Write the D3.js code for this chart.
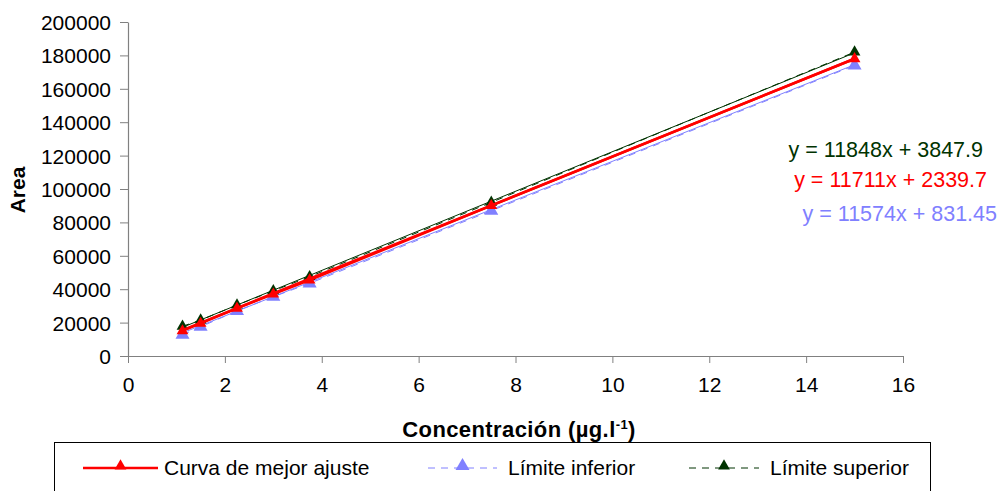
<!DOCTYPE html>
<html>
<head>
<meta charset="utf-8">
<script src="https://cdn.jsdelivr.net/npm/d3@7"></script>
<style>
  body { margin: 0; background: #fff; }
  svg { display: block; font-family: Arial, "Liberation Sans", sans-serif; }
</style>
</head>
<body>
<svg width="1001" height="491"></svg>
<script>
// data
const conc = [1.125, 1.5, 2.25, 3, 3.75, 7.5, 15];
const bestFit = [15000, 19500, 28500, 37000, 45500, 90000, 178000];
const lower = [12700, 17500, 27000, 35500, 43500, 87000, 174000];
const upper = [17800, 21500, 30500, 39000, 47500, 92000, 182000];

const seriesNames = ["Curva de mejor ajuste", "Límite inferior", "Límite superior"];
const slopes = [11711, 11574, 11848];
const intercepts = [2339.7, 831.45, 3847.9];
const eqLabels = ["y = 11711x + 2339.7", "y = 11574x + 831.45", "y = 11848x + 3847.9"];

const xTicks = [0, 2, 4, 6, 8, 10, 12, 14, 16];
const yTicks = [0, 20000, 40000, 60000, 80000, 100000, 120000, 140000, 160000, 180000, 200000];

const colors = ["#ff0000", "#8080ff", "#003300"];

const svg = d3.select("svg");

const x = d3.scaleLinear().domain([0, 16]).range([128, 903]);
const y = d3.scaleLinear().domain([0, 200000]).range([356, 22]);

// axes
const yAxis = svg.append("g")
    .attr("transform", "translate(128,0)")
    .call(d3.axisLeft(y).tickValues(yTicks).tickSize(8).tickPadding(9).tickSizeOuter(0).tickFormat(d3.format("d")));
const xAxis = svg.append("g")
    .attr("transform", "translate(0,356)")
    .call(d3.axisBottom(x).tickValues(xTicks).tickSize(7).tickPadding(14).tickSizeOuter(0));

[xAxis, yAxis].forEach(a => {
    a.select(".domain").attr("stroke", "#808080").attr("stroke-width", 1.2);
    a.selectAll(".tick line").attr("stroke", "#808080");
    a.selectAll(".tick text").attr("font-size", 21).attr("fill", "#000");
});
yAxis.selectAll(".tick text").attr("dy", "0.36em");

// axis titles
svg.append("text")
    .attr("transform", "translate(25,190) rotate(-90)")
    .attr("text-anchor", "middle")
    .attr("font-size", 21).attr("font-weight", "bold")
    .text("Area");

const xt = svg.append("text")
    .attr("x", 519).attr("y", 437)
    .attr("text-anchor", "middle")
    .attr("font-size", 22).attr("font-weight", "bold")
    .attr("letter-spacing", 0.4);
xt.append("tspan").text("Concentración (µg.l");
xt.append("tspan").attr("font-size", 13).attr("dy", -8).text("-1");
xt.append("tspan").attr("dy", 8).text(")");

const tri = d3.symbol().type(d3.symbolTriangle);
const line = d3.line().x(d => x(d[0])).y(d => y(d[1]));

const data = [bestFit, lower, upper];
const dashes = [null, "7,6", "7,6"];
const widths = [2.5, 1, 1];
const sizes = [60, 85, 60];

// draw lower, upper, then best fit on top
[1, 2, 0].forEach(i => {
    const pts = conc.map((c, j) => [c, data[i][j]]);
    const g = svg.append("g");
    // trendline from the fitted equation
    const ext = d3.extent(conc);
    g.append("path")
        .datum(ext.map(c => [c, slopes[i] * c + intercepts[i]]))
        .attr("d", line)
        .attr("fill", "none")
        .attr("stroke", colors[i])
        .attr("stroke-width", i === 0 ? 2.5 : 1);
    // series line
    g.append("path")
        .datum(pts)
        .attr("d", line)
        .attr("fill", "none")
        .attr("stroke", colors[i])
        .attr("stroke-width", widths[i])
        .attr("stroke-dasharray", dashes[i]);
    g.selectAll("path.m")
        .data(pts)
        .join("path")
        .attr("class", "m")
        .attr("d", tri.size(sizes[i]))
        .attr("transform", d => `translate(${x(d[0])},${y(d[1])})`)
        .attr("fill", colors[i]);
});

// equation labels
const eqPos = [[987, 187], [997, 221], [983, 157]];
eqLabels.forEach((t, i) => {
    svg.append("text")
        .attr("x", eqPos[i][0]).attr("y", eqPos[i][1])
        .attr("text-anchor", "end")
        .attr("font-size", 21.5)
        .attr("fill", colors[i])
        .text(t);
});

// legend
svg.append("rect")
    .attr("x", 54.5).attr("y", 442.5)
    .attr("width", 876).attr("height", 60)
    .attr("fill", "#fff").attr("stroke", "#000").attr("stroke-width", 1);

const legX = [[83, 158, 164], [428, 497, 508], [689, 759, 770]];
seriesNames.forEach((name, i) => {
    const lg = svg.append("g");
    lg.append("line")
        .attr("x1", legX[i][0]).attr("x2", legX[i][1])
        .attr("y1", 468).attr("y2", 468)
        .attr("stroke", colors[i])
        .attr("stroke-width", widths[i] === 1 ? 1 : 2.5)
        .attr("stroke-dasharray", dashes[i]);
    lg.append("path")
        .attr("d", tri.size(sizes[i]))
        .attr("transform", `translate(${(legX[i][0] + legX[i][1]) / 2},466)`)
        .attr("fill", colors[i]);
    lg.append("text")
        .attr("x", legX[i][2]).attr("y", 475)
        .attr("font-size", 21)
        .text(name);
});
</script>
</body>
</html>
